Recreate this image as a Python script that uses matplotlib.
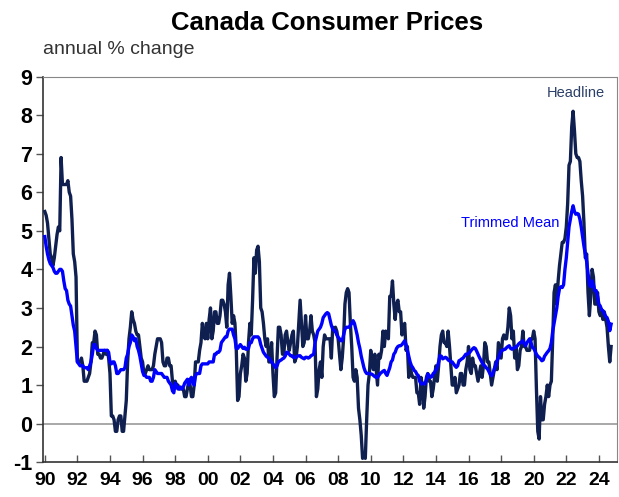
import matplotlib
matplotlib.use('Agg')
import matplotlib.pyplot as plt
import numpy as np

# monthly annual % change, Jan 1990 onwards
headline = [
    5.5, 5.4, 5.2, 4.8, 4.4, 4.3, 4.1, 4.3, 4.6, 4.9, 5.1, 5.0,   # 1990
    6.9, 6.2, 6.2, 6.2, 6.2, 6.3, 6.0, 5.9, 5.3, 4.4, 4.2, 3.8,   # 1991
    1.6, 1.6, 1.6, 1.7, 1.5, 1.1, 1.1, 1.1, 1.2, 1.3, 1.6, 2.1,   # 1992
    2.1, 2.4, 2.3, 1.8, 1.8, 1.7, 1.7, 1.8, 1.9, 1.8, 1.9, 1.7,   # 1993
    1.3, 0.2, 0.2, 0.1, -0.2, -0.2, 0.1, 0.2, 0.2, -0.2, -0.2, 0.2,  # 1994
    0.6, 1.6, 2.2, 2.5, 2.9, 2.7, 2.6, 2.4, 2.3, 2.3, 2.0, 1.7,   # 1995
    1.6, 1.3, 1.3, 1.4, 1.5, 1.4, 1.4, 1.4, 1.5, 1.8, 2.0, 2.2,   # 1996
    2.2, 2.2, 2.1, 1.6, 1.5, 1.5, 1.7, 1.7, 1.5, 1.5, 1.1, 1.0,   # 1997
    1.1, 1.0, 1.0, 0.9, 0.9, 0.9, 0.9, 0.7, 0.7, 0.9, 1.1, 1.0,   # 1998
    0.7, 0.7, 1.0, 1.6, 1.6, 1.6, 1.9, 2.1, 2.6, 2.3, 2.2, 2.6,   # 1999
    2.2, 2.7, 3.0, 2.2, 2.4, 2.9, 2.9, 2.6, 2.6, 2.8, 3.2, 3.2,   # 2000
    3.1, 2.9, 2.5, 3.6, 3.9, 3.3, 2.6, 2.8, 2.6, 1.9, 0.6, 0.7,   # 2001
    1.3, 1.5, 1.8, 1.7, 1.1, 1.3, 2.1, 2.6, 2.3, 3.2, 4.3, 3.9,   # 2002
    4.5, 4.6, 4.2, 3.0, 2.9, 2.6, 2.2, 2.0, 2.2, 1.6, 1.6, 2.1,   # 2003
    1.3, 0.7, 0.8, 1.7, 2.5, 2.5, 2.3, 1.8, 1.8, 2.3, 2.4, 2.1,   # 2004
    1.9, 2.1, 2.3, 2.4, 1.6, 1.7, 2.0, 2.6, 3.2, 2.6, 2.0, 2.1,   # 2005
    2.8, 2.2, 2.2, 2.4, 2.8, 2.4, 2.3, 2.1, 0.7, 0.9, 1.4, 1.6,   # 2006
    1.2, 2.0, 2.3, 2.2, 2.2, 2.2, 2.2, 1.7, 2.5, 2.4, 2.5, 2.4,   # 2007
    2.2, 1.8, 1.4, 1.7, 2.2, 3.1, 3.4, 3.5, 3.4, 2.6, 2.0, 1.2,   # 2008
    1.1, 1.4, 1.2, 0.4, 0.1, -0.3, -0.9, -0.8, -0.9, 0.1, 1.0, 1.3,  # 2009
    1.9, 1.6, 1.4, 1.8, 1.4, 1.0, 1.8, 1.7, 1.9, 2.4, 2.0, 2.4,   # 2010
    2.3, 2.2, 3.3, 3.3, 3.7, 3.1, 2.7, 3.1, 3.2, 2.9, 2.9, 2.3,   # 2011
    2.5, 2.6, 1.9, 2.0, 1.2, 1.5, 1.3, 1.2, 1.2, 1.2, 0.8, 0.8,   # 2012
    0.5, 1.2, 1.0, 0.4, 0.7, 1.2, 1.3, 1.1, 1.1, 0.7, 0.9, 1.2,   # 2013
    1.5, 1.1, 1.5, 2.0, 2.3, 2.4, 2.1, 2.1, 2.0, 2.4, 2.0, 1.5,   # 2014
    1.0, 1.0, 1.2, 0.8, 0.9, 1.0, 1.3, 1.3, 1.0, 1.0, 1.4, 1.6,   # 2015
    2.0, 1.4, 1.3, 1.7, 1.5, 1.5, 1.3, 1.1, 1.3, 1.5, 1.2, 1.5,   # 2016
    2.1, 2.0, 1.6, 1.6, 1.3, 1.0, 1.2, 1.4, 1.6, 1.4, 2.1, 1.9,   # 2017
    1.7, 2.2, 2.3, 2.2, 2.2, 2.5, 3.0, 2.8, 2.2, 2.4, 1.7, 2.0,   # 2018
    1.4, 1.5, 1.9, 2.0, 2.4, 2.0, 2.0, 1.9, 1.9, 1.9, 2.2, 2.2,   # 2019
    2.4, 2.2, 0.9, -0.2, -0.4, 0.7, 0.1, 0.1, 0.5, 0.7, 1.0, 0.7,  # 2020
    1.0, 1.1, 2.2, 3.4, 3.6, 3.1, 3.7, 4.1, 4.4, 4.7, 4.7, 4.8,   # 2021
    5.1, 5.7, 6.7, 6.8, 7.7, 8.1, 7.6, 7.0, 6.9, 6.9, 6.8, 6.3,   # 2022
    5.9, 5.2, 4.3, 4.4, 3.4, 2.8, 3.3, 4.0, 3.8, 3.1, 3.1, 3.4,   # 2023
    2.9, 2.8, 2.9, 2.7, 2.9, 2.7, 2.5, 2.0, 1.6, 2.0,             # 2024
]

trimmed_mean = [
    4.85, 4.6, 4.4, 4.25, 4.15, 4.1, 4.05, 3.95, 3.9, 3.9, 3.95, 4.0,
    4.0, 3.95, 3.7, 3.5, 3.45, 3.2, 3.1, 3.05, 2.8, 2.55, 2.4, 2.0,
    1.6, 1.55, 1.5, 1.5, 1.5, 1.45, 1.45, 1.45, 1.4, 1.5, 1.6, 1.8,
    2.05, 2.05, 1.95, 1.9, 1.9, 1.9, 1.9, 1.9, 1.9, 1.9, 1.9, 1.85,
    1.6, 1.55, 1.6, 1.6, 1.5, 1.3, 1.3, 1.35, 1.4, 1.4, 1.4, 1.45,
    1.7, 1.8, 2.0, 2.1, 2.3, 2.25, 2.15, 2.2, 2.0, 1.9, 1.75, 1.55,
    1.35, 1.25, 1.25, 1.2, 1.2, 1.2, 1.1, 1.1, 1.2, 1.4, 1.35, 1.3,
    1.3, 1.3, 1.3, 1.25, 1.2, 1.2, 1.2, 1.1, 1.05, 1.0, 0.85, 0.8,
    1.05, 1.0, 0.9, 0.9, 0.95, 0.9, 0.95, 1.05, 1.1, 1.15, 1.0, 1.15,
    1.2, 1.05, 1.0, 1.25, 1.3, 1.3, 1.3, 1.5, 1.55, 1.55, 1.55, 1.55,
    1.55, 1.6, 1.6, 1.6, 1.6, 1.8, 1.8, 1.85, 1.85, 1.9, 2.1, 2.15,
    2.2, 2.25, 2.25, 2.4, 2.45, 2.45, 2.45, 2.3, 2.2, 1.95, 1.95, 2.0,
    2.05, 2.0, 1.95, 1.98, 1.93, 1.93, 1.95, 2.1, 2.1, 2.2, 2.25, 2.25,
    2.25, 2.25, 2.2, 2.05, 1.95, 1.85, 1.8, 1.75, 1.72, 1.7, 1.65, 1.6,
    1.55, 1.5, 1.45, 1.5, 1.6, 1.63, 1.65, 1.68, 1.7, 1.75, 1.85, 1.85,
    1.8, 1.76, 1.76, 1.72, 1.72, 1.72, 1.75, 1.76, 1.76, 1.72, 1.7, 1.68,
    1.72, 1.72, 1.7, 1.72, 1.76, 1.78, 1.8, 2.1, 2.25, 2.4, 2.45, 2.5,
    2.6, 2.75, 2.8, 2.85, 2.88, 2.85, 2.7, 2.55, 2.45, 2.42, 2.4, 2.3,
    2.24, 2.2, 2.15, 2.15, 2.3, 2.45, 2.5, 2.5, 2.5, 2.55, 2.6, 2.67,
    2.6, 2.45, 2.3, 2.1, 1.95, 1.75, 1.6, 1.45, 1.35, 1.3, 1.3, 1.3,
    1.29, 1.28, 1.25, 1.22, 1.2, 1.2, 1.25, 1.3, 1.33, 1.36, 1.38, 1.3,
    1.25, 1.35, 1.45, 1.6, 1.65, 1.8, 1.85, 1.95, 2.0, 2.02, 2.02, 2.05,
    2.1, 2.15, 2.05, 1.9, 1.75, 1.6, 1.5, 1.45, 1.38, 1.35, 1.28, 1.25,
    1.1, 1.03, 1.03, 1.05, 1.03, 1.15, 1.29, 1.25, 1.2, 1.22, 1.3, 1.33,
    1.4, 1.46, 1.6, 1.76, 1.75, 1.68, 1.7, 1.72, 1.7, 1.65, 1.63, 1.6,
    1.6, 1.55, 1.5, 1.46, 1.5, 1.63, 1.65, 1.68, 1.7, 1.75, 1.8, 1.8,
    1.82, 1.85, 1.9, 1.94, 1.97, 1.95, 1.88, 1.8, 1.72, 1.65, 1.58, 1.52,
    1.5, 1.45, 1.42, 1.35, 1.28, 1.24, 1.3, 1.42, 1.5, 1.63, 1.7, 1.8,
    1.89, 1.9, 1.92, 1.93, 1.97, 2.0, 2.02, 1.95, 1.93, 1.95, 1.98, 1.98,
    2.02, 2.07, 2.1, 2.12, 2.15, 2.08, 2.02, 2.1, 2.15, 2.2, 2.1, 1.98,
    1.95, 1.88, 1.8, 1.75, 1.72, 1.68, 1.63, 1.65, 1.75, 1.8, 1.85, 1.89,
    1.95, 2.1, 2.4, 2.6, 2.8, 3.0, 3.3, 3.5, 3.55, 3.53, 3.6, 4.0,
    4.3, 4.7, 5.1, 5.3, 5.5, 5.65, 5.5, 5.43, 5.45, 5.43, 5.3, 5.1,
    4.85, 4.6, 4.4, 4.2, 3.9, 3.6, 3.55, 3.7, 3.6, 3.45, 3.45, 3.3,
    3.1, 3.05, 2.95, 2.93, 2.85, 2.78, 2.75, 2.65, 2.41, 2.58,
]

start_year = 1990
tick_years = list(range(1990, 2025, 2))
tick_labels = ['%02d' % (y % 100) for y in tick_years]
y_ticks = list(range(-1, 10))

navy = '#0f1f4f'
blue = '#0000ff'


def plot_chart():
    plt.rcParams['font.family'] = ['Liberation Sans', 'DejaVu Sans']
    x1 = start_year + np.arange(len(headline)) / 12.0
    x2 = start_year + np.arange(len(trimmed_mean)) / 12.0

    fig = plt.figure(figsize=(6.19, 4.97), dpi=100)
    ax = fig.add_axes([0.070, 0.070, 0.927, 0.776])

    ax.axhline(0, color='#999999', lw=1.2, zorder=1)
    ax.plot(x1, headline, color=navy, lw=2.4, zorder=3)
    ax.plot(x2, trimmed_mean, color=blue, lw=2.4, zorder=4)

    ax.set_xlim(1989.91, 2025.12)
    ax.set_ylim(-1, 9)
    ax.set_xticks(tick_years)
    ax.set_xticklabels(tick_labels, fontsize=14, fontweight='bold',
                       family=['Liberation Sans Narrow', 'Liberation Sans'])
    ax.set_yticks(y_ticks)
    ax.set_yticklabels([str(v) for v in y_ticks], fontsize=15.5, fontweight='bold')
    ax.tick_params(axis='x', direction='in', length=5, width=1,
                   color='#555555', pad=7)
    ax.tick_params(axis='y', length=5, width=1, color='#555555', pad=3)

    for s in ['top', 'right']:
        ax.spines[s].set_color('#888888')
    for s in ['left', 'bottom']:
        ax.spines[s].set_color('#333333')
        ax.spines[s].set_linewidth(1.2)

    ax.text(2022.6, 8.57, 'Headline', color='#2b4068', fontsize=10.5,
            ha='center', va='center')
    ax.text(2018.55, 5.21, 'Trimmed Mean', color=blue, fontsize=10.5,
            ha='center', va='center')

    fig.text(0.528, 0.953, 'Canada Consumer Prices', fontsize=18.5,
             fontweight='bold', ha='center', va='center')
    fig.text(0.069, 0.9, 'annual % change', fontsize=14, color='#333333',
             ha='left', va='center')

    fig.savefig('out.png', dpi=100)


plot_chart()
